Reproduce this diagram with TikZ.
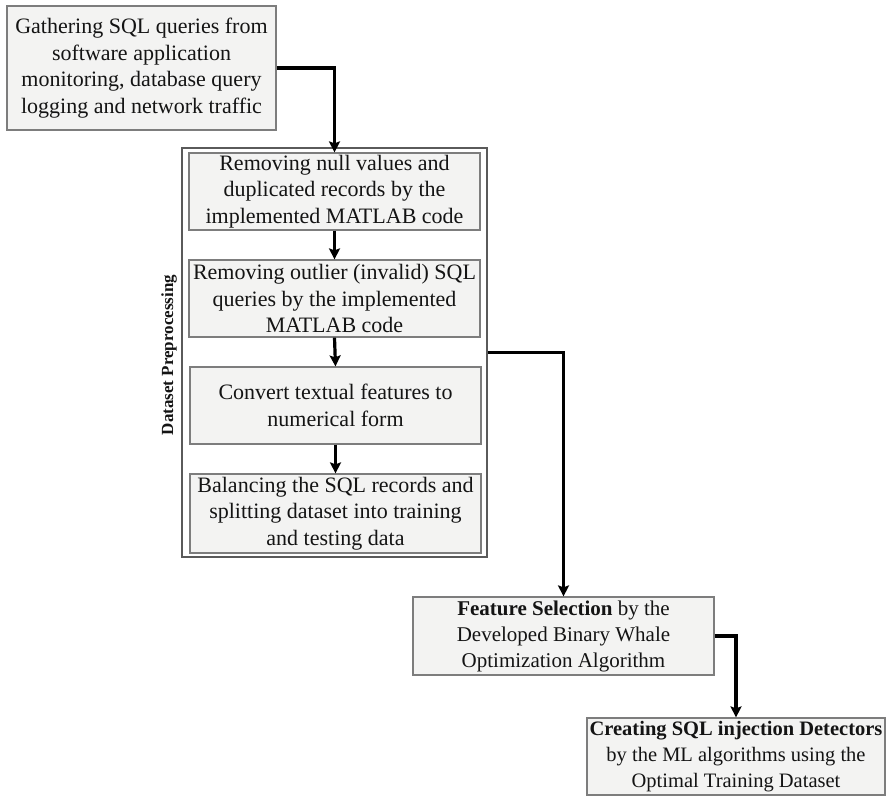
\documentclass[tikz,border=0pt]{standalone}
\usepackage{fontspec}
\setmainfont{Liberation Serif}
\usetikzlibrary{arrows.meta}
\definecolor{boxfill}{RGB}{243,243,242}
\definecolor{boxline}{RGB}{125,125,125}
\definecolor{groupline}{RGB}{90,90,90}
\definecolor{txt}{RGB}{20,20,20}
\begin{document}
\begin{tikzpicture}[x=1pt,y=-1pt,
  box/.style={draw=boxline, line width=1.2pt, fill=boxfill, align=center, inner sep=0pt,
    text=txt, font=\fontsize{22}{26.5}\selectfont},
  groupbox/.style={draw=groupline, line width=1.4pt, inner sep=0pt},
  conn/.style={line width=3.2pt, -{Stealth[length=11pt,width=11pt,inset=2pt]}}
]
\useasboundingbox (0,0) rectangle (891,797);
\node[groupbox, minimum width=305pt, minimum height=409pt] (grp) at (334.5,352.5) {};
\node[rotate=90, inner sep=0pt, text=txt, font=\bfseries\fontsize{17}{19}\selectfont] (lbl) at (169,355) {Dataset Preprocessing};

\node[box, minimum width=269pt, minimum height=124pt] (g) at (141.5,68)
  {Gathering SQL queries from\\software application\\monitoring, database query\\logging and network traffic};
\node[box, minimum width=291pt, minimum height=77pt] (b2) at (334.5,191.5)
  {Removing null values and\\duplicated records by the\\implemented MATLAB code};
\node[box, minimum width=291pt, minimum height=77pt] (b3) at (334.5,298.5)
  {Removing outlier (invalid) SQL\\queries by the implemented\\MATLAB code};
\node[box, minimum width=291pt, minimum height=77pt] (b4) at (335.5,405.5)
  {Convert textual features to\\numerical form};
\node[box, minimum width=291pt, minimum height=79pt] (b5) at (335.5,513.5)
  {Balancing the SQL records and\\splitting dataset into training\\and testing data};
\node[box, minimum width=301pt, minimum height=78pt, font=\fontsize{21}{26}\selectfont] (b6) at (563.5,636)
  {\textbf{Feature Selection} by the\\Developed Binary Whale\\Optimization Algorithm};
\node[box, minimum width=298pt, minimum height=77pt, font=\fontsize{20.5}{26}\selectfont] (b7) at (736,756.5)
  {\textbf{Creating SQL injection Detectors}\\by the ML algorithms using the\\Optimal Training Dataset};

\draw[conn] (g.east) -| (b2.north);
\draw[conn] (b2.south) -- (b3.north);
\draw[conn] (b3.south) -- (b4.north);
\draw[conn] (b4.south) -- (b5.north);
\draw[conn] (grp.east) -| (b6.north);
\draw[conn] (b6.east) -| (b7.north);
\end{tikzpicture}
\end{document}
